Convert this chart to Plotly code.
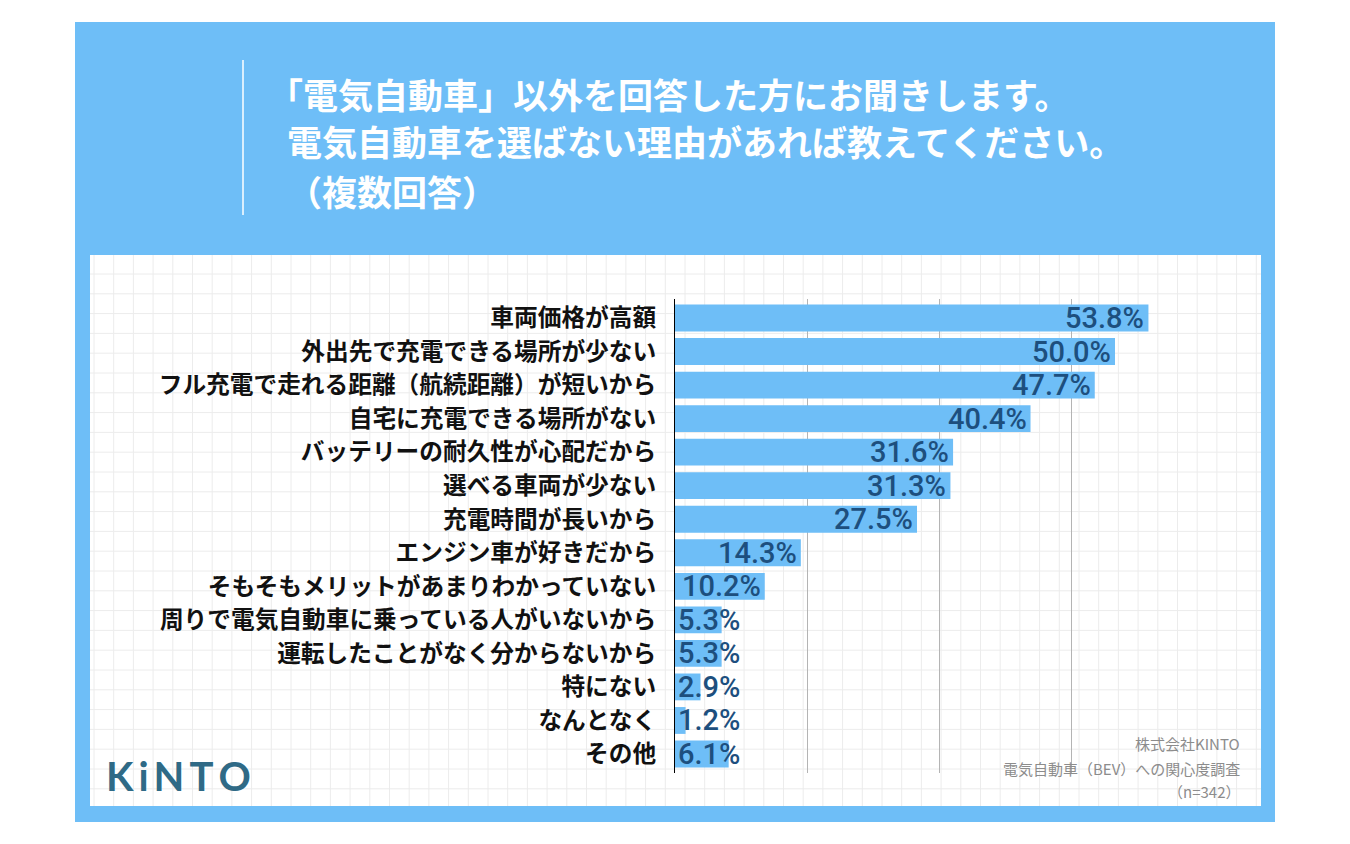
import plotly.graph_objects as go

categories = [
    "車両価格が高額",
    "外出先で充電できる場所が少ない",
    "フル充電で走れる距離（航続距離）が短いから",
    "自宅に充電できる場所がない",
    "バッテリーの耐久性が心配だから",
    "選べる車両が少ない",
    "充電時間が長いから",
    "エンジン車が好きだから",
    "そもそもメリットがあまりわかっていない",
    "周りで電気自動車に乗っている人がいないから",
    "運転したことがなく分からないから",
    "特にない",
    "なんとなく",
    "その他",
]
values = [53.8, 50.0, 47.7, 40.4, 31.6, 31.3, 27.5, 14.3, 10.2, 5.3, 5.3, 2.9, 1.2, 6.1]
value_labels = ["53.8%", "50.0%", "47.7%", "40.4%", "31.6%", "31.3%", "27.5%",
                "14.3%", "10.2%", "5.3%", "5.3%", "2.9%", "1.2%", "6.1%"]
title_lines = [
    "「電気自動車」以外を回答した方にお聞きします。",
    "電気自動車を選ばない理由があれば教えてください。",
    "（複数回答）",
]
source_lines = ["株式会社KINTO", "電気自動車（BEV）への関心度調査", "（n=342）"]
logo_text = "K\u2009i\u2009N\u2009T\u2009O"

W, H = 1350, 844
OFF = 8  # page offset of the figure in the browser
PW, PH = 528, 474
ML = 675 - OFF
MT = 299 - OFF
MR = W - ML - PW
MB = H - MT - PH


def px(x):
    return (x - OFF - ML) / PW


def py(y):
    return (MT + PH - (y - OFF)) / PH


BLUE = "#6ebef7"
CJK = "Noto Sans CJK JP"

fig = go.Figure()
fig.add_trace(go.Bar(
    y=categories, x=values, orientation="h",
    marker=dict(color=BLUE, line=dict(width=0)),
    width=0.8, hoverinfo="skip",
))

shapes = []
shapes.append(dict(type="rect", xref="paper", yref="paper",
                   x0=px(75), x1=px(1275), y0=py(822), y1=py(22),
                   fillcolor=BLUE, line=dict(width=0), layer="below"))
shapes.append(dict(type="rect", xref="paper", yref="paper",
                   x0=px(90), x1=px(1261), y0=py(806), y1=py(255),
                   fillcolor="white", line=dict(width=0), layer="below"))
gx = 94.0
while gx < 1261:
    shapes.append(dict(type="line", xref="paper", yref="paper",
                       x0=px(gx), x1=px(gx), y0=py(806), y1=py(255),
                       line=dict(color="#ececec", width=1), layer="below"))
    gx += 19.7
gy = 274.0
while gy < 806:
    shapes.append(dict(type="line", xref="paper", yref="paper",
                       x0=px(90), x1=px(1261), y0=py(gy), y1=py(gy),
                       line=dict(color="#ececec", width=1), layer="below"))
    gy += 19.8
shapes.append(dict(type="line", xref="paper", yref="paper",
                   x0=px(243), x1=px(243), y0=py(215), y1=py(60),
                   line=dict(color="white", width=1.5)))

annotations = []
for line, xl, yc in zip(title_lines, [266, 285, 285], [93, 140, 190]):
    annotations.append(dict(
        text=line, xref="paper", yref="paper", x=px(xl), y=py(yc),
        xanchor="left", yanchor="middle", showarrow=False,
        font=dict(family=CJK, size=35, color="white", weight="bold"),
    ))

for cat, v, lab in zip(categories, values, value_labels):
    if v >= 10:
        annotations.append(dict(
            text=lab, x=v, y=cat, xref="x", yref="y",
            xanchor="right", yanchor="middle", showarrow=False, xshift=-2,
            font=dict(family="Roboto", size=29, color="#1d4f7e", weight=500),
        ))
    else:
        annotations.append(dict(
            text=lab, x=0, y=cat, xref="x", yref="y",
            xanchor="left", yanchor="middle", showarrow=False, xshift=1,
            font=dict(family="Roboto", size=29, color="#1d4f7e", weight=500),
        ))

for line, yc in zip(source_lines, [743, 768, 791]):
    annotations.append(dict(
        text=line, xref="paper", yref="paper", x=px(1242), y=py(yc),
        xanchor="right", yanchor="middle", showarrow=False,
        font=dict(family=CJK, size=15, color="#8c8c8c"),
    ))

annotations.append(dict(
    text=logo_text, xref="paper", yref="paper", x=px(104), y=py(776),
    xanchor="left", yanchor="middle", showarrow=False,
    font=dict(family="Lato", size=40, color="#2f6a86", weight="bold"),
))

fig.update_layout(
    width=W, height=H,
    margin=dict(l=ML, r=MR, t=MT, b=MB, pad=0),
    paper_bgcolor="white", plot_bgcolor="rgba(0,0,0,0)",
    showlegend=False, bargap=0.2,
    shapes=shapes, annotations=annotations,
    xaxis=dict(range=[0, 60], tickvals=[0, 15, 30, 45, 60], showticklabels=False,
               showgrid=True, gridcolor="#b4b4b4", gridwidth=1, zeroline=False,
               showline=False, fixedrange=True),
    yaxis=dict(autorange="reversed", showgrid=False, zeroline=False,
               showline=True, linecolor="black", linewidth=1.2,
               ticks="", ticklabelstandoff=13,
               tickfont=dict(family=CJK, size=23.7, color="#111111", weight="bold"),
               fixedrange=True),
)

fig.write_html("out.html")
